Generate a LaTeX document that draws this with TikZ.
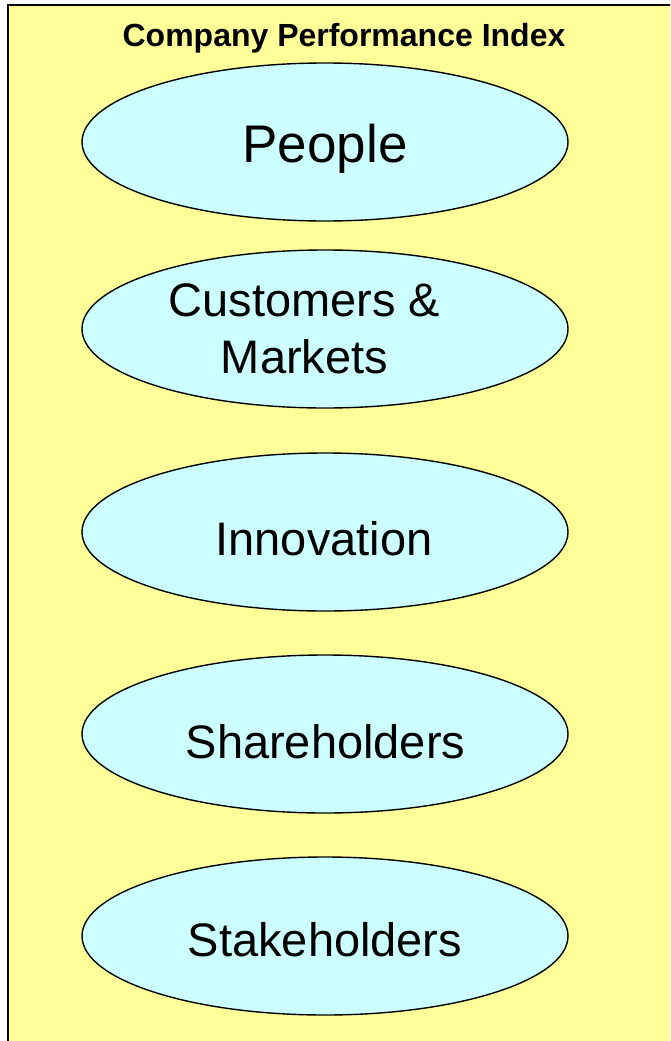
\documentclass[tikz,border=0pt]{standalone}
\usepackage{fontspec}
\setmainfont{Liberation Sans}
\usetikzlibrary{shapes.geometric}
\definecolor{panelyellow}{HTML}{FFFF99}
\definecolor{ovalcyan}{HTML}{CCFFFF}
\begin{document}
\begin{tikzpicture}[x=1pt,y=-1pt,
  oval/.style={ellipse, draw=black, line width=1.4pt, fill=ovalcyan,
    minimum width=486pt, minimum height=158pt, inner sep=0pt},
  ovaltext/.style={anchor=base, inner sep=0pt, align=center,
    font=\fontsize{47}{56.7}\selectfont},
  titletext/.style={anchor=base, inner sep=0pt,
    font=\fontsize{32}{36}\selectfont\bfseries}]
  \useasboundingbox (0,0) rectangle (670,1041);
  \fill[white] (0,0) rectangle (670,1041);
  % panel, running off the right and bottom edges
  \begin{scope}
    \clip (0,0) rectangle (670,1041);
    \draw[line width=2.4pt, fill=panelyellow] (8,5) rectangle (690,1060);
  \end{scope}
  \node[titletext] (title) at (344,46.5) {Company Performance Index};
  % the five ovals
  \node[oval] (people)  at (325,142) {};
  \node[oval] (markets) at (325,329) {};
  \node[oval] (innov)   at (325,532) {};
  \node[oval] (share)   at (325,734) {};
  \node[oval] (stake)   at (325,936) {};
  % their labels (base anchor sits on the last line)
  \node[ovaltext, font=\fontsize{53}{60}\selectfont] (peopleT) at (325,162) {People};
  \node[ovaltext] (marketsT) at (304.5,373.3) {Customers \&\\Markets};
  \node[ovaltext] (innovT)   at (324,555)   {Innovation};
  \node[ovaltext] (shareT)   at (325.5,758.3) {Shareholders};
  \node[ovaltext] (stakeT)   at (325,956.7) {Stakeholders};
\end{tikzpicture}
\end{document}
